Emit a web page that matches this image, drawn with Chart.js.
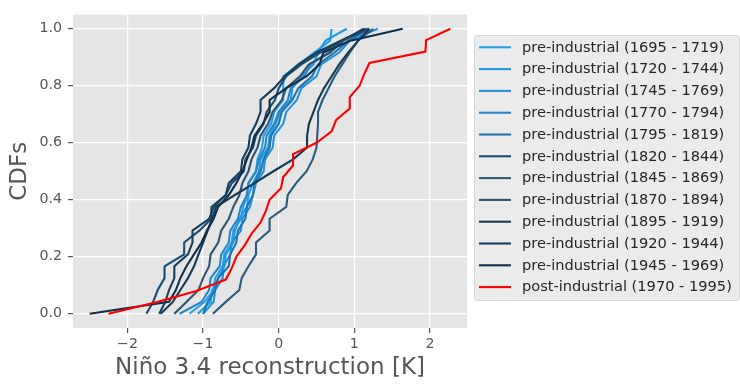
<!DOCTYPE html>
<html>
<head>
<meta charset="utf-8">
<title>Niño 3.4 CDFs</title>
<script src="https://cdn.jsdelivr.net/npm/chart.js@4.4.0/dist/chart.umd.min.js"></script>
<style>
  body { margin: 0; background: #fff; }
  canvas { display: block; }
</style>
</head>
<body>
<canvas id="cdfChart" width="740" height="384"></canvas>
<script>
const xTicks = [-2, -1, 0, 1, 2];
const yTicks = [0, 0.2, 0.4, 0.6, 0.8, 1.0];

const periods = [
    'pre-industrial (1695 - 1719)',
    'pre-industrial (1720 - 1744)',
    'pre-industrial (1745 - 1769)',
    'pre-industrial (1770 - 1794)',
    'pre-industrial (1795 - 1819)',
    'pre-industrial (1820 - 1844)',
    'pre-industrial (1845 - 1869)',
    'pre-industrial (1870 - 1894)',
    'pre-industrial (1895 - 1919)',
    'pre-industrial (1920 - 1944)',
    'pre-industrial (1945 - 1969)',
    'post-industrial (1970 - 1995)'
];

const colors = [
    '#20a0ee', '#1e9ae4', '#2393da', '#2886c8', '#1e74b0', '#184e74',
    '#2c5a7c', '#2e5470', '#153a54', '#173e5c', '#0e2e4a', '#ff0000'
];

// sorted Niño 3.4 values of each window
const p1695 = [-1.18, -0.98, -0.86, -0.84, -0.74, -0.72, -0.62, -0.60, -0.50, -0.47, -0.42, -0.40, -0.30, -0.28, -0.22, -0.20, -0.10, -0.06, 0.06, 0.06, 0.06, 0.27, 0.47, 0.68, 0.70];
const p1720 = [-1.07, -0.90, -0.88, -0.80, -0.72, -0.70, -0.60, -0.58, -0.52, -0.42, -0.40, -0.34, -0.26, -0.24, -0.14, -0.12, -0.04, 0.02, 0.16, 0.18, 0.30, 0.46, 0.52, 0.62, 0.90];
const p1745 = [-1.00, -0.86, -0.84, -0.74, -0.73, -0.64, -0.62, -0.50, -0.48, -0.38, -0.34, -0.30, -0.20, -0.18, -0.08, -0.06, 0.06, 0.10, 0.24, 0.30, 0.50, 0.56, 0.80, 0.94, 1.31];
const p1770 = [-1.31, -1.02, -0.92, -0.90, -0.78, -0.76, -0.66, -0.64, -0.54, -0.50, -0.42, -0.40, -0.30, -0.26, -0.18, -0.16, -0.06, 0.00, 0.12, 0.16, 0.34, 0.42, 0.66, 0.84, 1.15];
const p1795 = [-1.00, -0.94, -0.84, -0.80, -0.66, -0.64, -0.56, -0.54, -0.44, -0.42, -0.34, -0.32, -0.24, -0.20, -0.12, -0.10, 0.00, 0.04, 0.18, 0.26, 0.44, 0.52, 0.74, 0.92, 1.20];
const p1820 = [-1.75, -1.66, -1.60, -1.51, -1.51, -1.25, -1.25, -1.05, -0.89, -0.89, -0.70, -0.62, -0.46, -0.44, -0.34, -0.30, -0.20, -0.16, -0.05, 0.00, 0.10, 0.30, 0.55, 0.85, 1.18];
const p1845 = [-0.87, -0.70, -0.52, -0.49, -0.40, -0.30, -0.30, -0.12, -0.12, 0.10, 0.12, 0.23, 0.37, 0.45, 0.50, 0.51, 0.52, 0.52, 0.58, 0.66, 0.74, 0.84, 0.94, 1.05, 1.25];
const p1870 = [-1.38, -1.22, -1.06, -1.00, -0.92, -0.90, -0.80, -0.76, -0.66, -0.60, -0.52, -0.48, -0.40, -0.36, -0.28, -0.24, -0.14, -0.08, 0.04, 0.10, 0.28, 0.40, 0.68, 0.86, 1.12];
const p1895 = [-1.56, -1.40, -1.30, -1.20, -1.12, -1.06, -1.00, -0.94, -0.88, -0.83, -0.58, -0.32, -0.07, 0.19, 0.375, 0.375, 0.40, 0.46, 0.52, 0.60, 0.70, 0.80, 0.92, 1.05, 1.20];
const p1920 = [-1.58, -1.50, -1.45, -1.38, -1.38, -1.20, -1.14, -1.14, -0.92, -0.86, -0.70, -0.66, -0.50, -0.48, -0.40, -0.38, -0.30, -0.24, -0.24, -0.06, 0.08, 0.26, 0.50, 0.82, 1.15];
const p1945 = [-2.50, -1.45, -1.36, -1.30, -1.22, -1.12, -1.02, -0.95, -0.86, -0.80, -0.66, -0.56, -0.48, -0.42, -0.36, -0.32, -0.21, -0.12, -0.12, 0.10, 0.37, 0.54, 0.59, 0.95, 1.64];
const p1970 = [-2.25, -1.62, -1.09, -0.70, -0.62, -0.56, -0.45, -0.36, -0.24, -0.17, -0.12, 0.03, 0.06, 0.19, 0.19, 0.50, 0.70, 0.76, 0.94, 0.94, 1.07, 1.13, 1.20, 1.94, 1.95, 2.27];

const samples = [p1695, p1720, p1745, p1770, p1795, p1820, p1845, p1870, p1895, p1920, p1945, p1970];

// empirical cdf: i-th sorted value sits at i / (n - 1)
function ecdf(values) {
    return values.map((v, i) => ({ x: v, y: i / (values.length - 1) }));
}

const datasets = samples.map((values, i) => ({
    label: periods[i],
    data: ecdf(values),
    borderColor: colors[i],
    backgroundColor: colors[i],
    borderWidth: 2.1,
    pointRadius: 0,
    showLine: true,
    tension: 0,
    order: samples.length - i
}));

const tickFont = { family: 'DejaVu Sans', size: 14.2 };
const titleFont = { family: 'DejaVu Sans', size: 23 };

const plotBackground = {
    id: 'plotBackground',
    beforeDraw(chart) {
        const { ctx, chartArea: a } = chart;
        ctx.save();
        ctx.fillStyle = '#e5e5e5';
        ctx.fillRect(a.left, a.top, a.right - a.left, a.bottom - a.top);
        ctx.restore();
    }
};

const sideLegend = {
    id: 'sideLegend',
    afterDraw(chart) {
        const ctx = chart.ctx;
        const left = chart.chartArea.right + 7;
        const top = 35, width = 265, height = 265;
        ctx.save();
        ctx.beginPath();
        ctx.roundRect(left + 0.5, top + 0.5, width, height, 3);
        ctx.fillStyle = '#ebebeb';
        ctx.fill();
        ctx.strokeStyle = '#d4d4d4';
        ctx.lineWidth = 1;
        ctx.stroke();
        ctx.font = '14.6px "DejaVu Sans"';
        ctx.textBaseline = 'middle';
        chart.data.datasets.forEach((ds, i) => {
            const y = top + 12.3 + i * 21.8;
            ctx.strokeStyle = ds.borderColor;
            ctx.lineWidth = 2.1;
            ctx.beginPath();
            ctx.moveTo(left + 5, y);
            ctx.lineTo(left + 37, y);
            ctx.stroke();
            ctx.fillStyle = '#262626';
            ctx.fillText(ds.label, left + 48, y + 0.5);
        });
        ctx.restore();
    }
};

new Chart(document.getElementById('cdfChart'), {
    type: 'scatter',
    data: { datasets: datasets },
    plugins: [plotBackground, sideLegend],
    options: {
        responsive: false,
        animation: false,
        devicePixelRatio: 1,
        layout: { padding: { top: 7.5, right: 273, left: 0, bottom: 0 } },
        plugins: {
            legend: { display: false },
            tooltip: { enabled: false }
        },
        scales: {
            x: {
                type: 'linear',
                min: -2.72,
                max: 2.49,
                afterFit: s => { s.height = 56; },
                afterBuildTicks: s => { s.ticks = xTicks.map(v => ({ value: v })); },
                grid: { color: '#ffffff', lineWidth: 1.2, tickColor: '#555555', tickLength: 5 },
                border: { display: false },
                ticks: {
                    color: '#555555',
                    font: tickFont,
                    padding: 3,
                    maxRotation: 0,
                    callback: v => String(v).replace('-', '\u2212')
                },
                title: {
                    display: true,
                    text: 'Niño 3.4 reconstruction [K]',
                    color: '#555555',
                    font: titleFont,
                    padding: { top: 0, bottom: 2 }
                }
            },
            y: {
                type: 'linear',
                min: -0.05,
                max: 1.05,
                afterFit: s => { s.width = 73; },
                afterBuildTicks: s => { s.ticks = yTicks.map(v => ({ value: v })); },
                grid: { color: '#ffffff', lineWidth: 1.2, tickColor: '#555555', tickLength: 5 },
                border: { display: false },
                ticks: {
                    color: '#555555',
                    font: tickFont,
                    padding: 6,
                    callback: v => v.toFixed(1)
                },
                title: {
                    display: true,
                    text: 'CDFs',
                    color: '#555555',
                    font: titleFont,
                    padding: { top: 6, bottom: 0 }
                }
            }
        }
    }
});
</script>
</body>
</html>
